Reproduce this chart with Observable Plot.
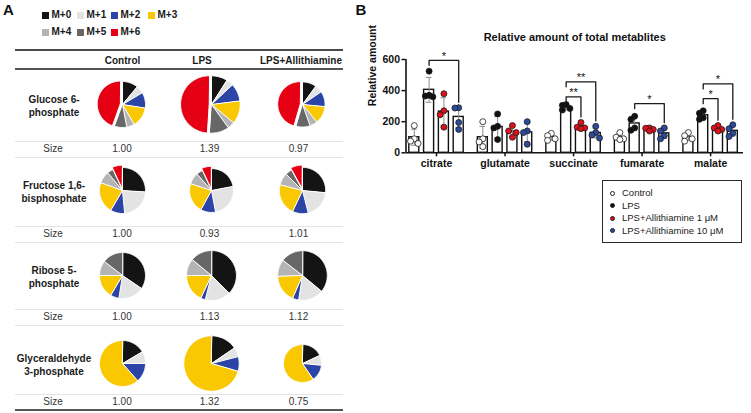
<!DOCTYPE html>
<html><head><meta charset="utf-8">
<script src="https://cdn.jsdelivr.net/npm/d3@7"></script>
<script src="https://cdn.jsdelivr.net/npm/@observablehq/plot@0.6"></script>
<style>
html,body{margin:0;padding:0;background:#fff;}
#root{position:relative;width:751px;height:413px;overflow:hidden;font-family:"Liberation Sans",Arial,Helvetica,sans-serif;color:#1a1a1a;}
.t{position:absolute;white-space:nowrap;line-height:1;transform:translate(-50%,-50%);}
.hl{position:absolute;left:15px;width:328px;}
.abs{position:absolute;}
</style></head><body><div id="root"></div>
<script>
// ---------------- Panel A data ----------------
const isotopologues = ["M+0","M+1","M+2","M+3","M+4","M+5","M+6"];
const isoColors = ["#141414","#e3e3e3","#2b44a6","#f9c800","#b4b4b4","#676767","#e50013"];
const conditionsA = ["Control","LPS","LPS+Allithiamine"];
const metabolitesA = ["Glucose 6-phosphate","Fructose 1,6-bisphosphate","Ribose 5-phosphate","Glyceraldehyde 3-phosphate"];
const labelLinesA = [["Glucose 6-","phosphate"],["Fructose 1,6-","bisphosphate"],["Ribose 5-","phosphate"],["Glyceraldehyde","3-phosphate"]];
const sizeG6P  = [1.00, 1.39, 0.97];
const sizeF16BP = [1.00, 0.93, 1.01];
const sizeR5P  = [1.00, 1.13, 1.12];
const sizeGA3P = [1.00, 1.32, 0.75];
// fractions M+0..M+6 for Control, LPS, LPS+Allithiamine
const fracG6P = [[0.11,0.055,0.11,0.14,0.055,0.085,0.445],[0.09,0.04,0.10,0.13,0.04,0.11,0.49],[0.10,0.055,0.11,0.125,0.055,0.10,0.455]];
const fracF16BP = [[0.26,0.225,0.10,0.22,0.085,0.04,0.07],[0.22,0.25,0.11,0.22,0.085,0.045,0.07],[0.265,0.195,0.11,0.22,0.085,0.045,0.08]];
const fracR5P = [[0.345,0.18,0.06,0.165,0.105,0.145,0],[0.375,0.165,0.03,0.18,0.11,0.14,0],[0.36,0.165,0.04,0.18,0.11,0.145,0]];
const fracGA3P = [[0.165,0.085,0.135,0.615,0,0,0],[0.155,0.055,0.085,0.705,0,0,0],[0.18,0.085,0.14,0.595,0,0,0]];

// ---------------- Panel B data ----------------
const metabolitesB = ["citrate","glutamate","succinate","fumarate","malate"];
const groupsB = ["Control","LPS","LPS+Allithiamine 1 μM","LPS+Allithiamine 10 μM"];
const groupFill = ["#ffffff","#111111","#e0101b","#2c4a9e"];
const citrate   = [[175,90,75,60],[525,370,365,360],[380,270,245,165],[290,288,195,150]];
const glutamate = [[200,90,70,40],[250,170,160,85],[175,140,130,100],[200,140,130,55]];
const succinate = [[125,110,90,80],[310,305,285,275],[195,165,160,155],[170,130,115,95]];
const fumarate  = [[130,100,90,85],[235,215,160,145],[160,158,150,140],[160,140,110,90]];
const malate    = [[130,110,90,75],[270,255,225,215],[175,160,150,140],[180,155,125,105]];
const sigMetabolite = [0, 2, 2, 3, 4, 4];
const sigGroup      = [3, 2, 3, 3, 2, 3];
const sigHeight     = [595, 360, 456, 316, 348, 443];
const sigLabel      = ["*", "**", "**", "*", "*", "*"];
const titleB = "Relative amount of total metablites";
const yLabelB = "Relative amount";

// ---------------- helpers ----------------
const root = document.getElementById("root");
const FONT = "Liberation Sans, Arial, Helvetica, sans-serif";
function text(str, x, y, style) {
  const d = document.createElement("div");
  d.className = "t"; d.textContent = str;
  d.style.left = x + "px"; d.style.top = y + "px";
  Object.assign(d.style, style || {});
  root.appendChild(d); return d;
}
function hline(y, h, color) {
  const d = document.createElement("div");
  d.className = "hl";
  d.style.top = (y - h / 2) + "px"; d.style.height = h + "px"; d.style.background = color;
  root.appendChild(d);
}

// ---------------- Panel A layout ----------------
text("A", 8.5, 9, {fontSize: "15px", fontWeight: "bold", color: "#111"});
text("B", 361, 9, {fontSize: "15px", fontWeight: "bold", color: "#111"});

const legColX = [42, 77, 111, 148];
isotopologues.forEach((m, i) => {
  const row = i < 4 ? 0 : 1, col = i < 4 ? i : i - 4;
  const y = row === 0 ? 15 : 32;
  const sq = document.createElement("div");
  sq.className = "abs";
  Object.assign(sq.style, {left: legColX[col] + "px", top: (y - 3.5) + "px", width: "7px", height: "7px", background: isoColors[i]});
  root.appendChild(sq);
  text(m, legColX[col] + 9.5, y, {fontSize: "10px", fontWeight: "bold", transform: "translate(0,-50%)"});
});

hline(50, 1.8, "#4a4a4a");
hline(69, 1.3, "#555");
const headX = [122.5, 202, 301];
conditionsA.forEach((c, i) => text(c, headX[i], 61, {fontSize: "10px", fontWeight: "bold"}));

const pieX = [121.5, 211, 302];
const pieY = [103.5, 189.5, 274.5, 362.5];
const sizeRowY = [149, 234, 317, 402];
const sizeX = [122, 209.5, 298.5];
const sizesA = [sizeG6P, sizeF16BP, sizeR5P, sizeGA3P];
const fracsA = [fracG6P, fracF16BP, fracR5P, fracGA3P];

sizeRowY.forEach((y, r) => {
  hline(y - 8, 1, "#e4e4e4");
  if (r < 3) hline(y + 8.5, 1, "#e4e4e4");
  text("Size", 53, y, {fontSize: "10px", color: "#333"});
  sizesA[r].forEach((s, c) => text(s.toFixed(2), sizeX[c], y, {fontSize: "10px", color: "#333"}));
});
hline(410, 2.4, "#555");

labelLinesA.forEach((lines, r) => {
  text(lines[0], 54, pieY[r] - 3.3, {fontSize: "10px", fontWeight: "bold"});
  text(lines[1], 54, pieY[r] + 9.3, {fontSize: "10px", fontWeight: "bold"});
});

const PX_PER_UNIT = 23, PIE_BOX = 80;
function piePoints(fr, size) {
  const total = d3.sum(fr);
  const radius = Math.pow(size, 2 / 3);
  const pts = [];
  let acc = 0;
  fr.forEach((f, k) => {
    if (f <= 0) { return; }
    const a0 = acc / total * 2 * Math.PI, a1 = (acc + f) / total * 2 * Math.PI;
    acc += f;
    const mid = (a0 + a1) / 2;
    const ex = isotopologues[k] === "M+6" ? 0.1 : 0;
    const ox = ex * Math.sin(mid), oy = ex * Math.cos(mid);
    pts.push({key: isotopologues[k], x: ox, y: oy});
    const n = Math.max(2, Math.ceil((a1 - a0) / (Math.PI / 90)));
    for (let j = 0; j <= n; j++) {
      const a = a0 + (a1 - a0) * j / n;
      pts.push({key: isotopologues[k], x: ox + radius * Math.sin(a), y: oy + radius * Math.cos(a)});
    }
  });
  return pts;
}
const half = PIE_BOX / 2 / PX_PER_UNIT;
fracsA.forEach((rowFr, r) => {
  rowFr.forEach((fr, c) => {
    const svg = Plot.plot({
      width: PIE_BOX, height: PIE_BOX, margin: 0,
      x: {domain: [-half, half], axis: null},
      y: {domain: [-half, half], axis: null},
      color: {domain: isotopologues, range: isoColors},
      style: {background: "none", overflow: "visible"},
      marks: [
        Plot.line(piePoints(fr, sizesA[r][c]), {x: "x", y: "y", z: "key", fill: "key", stroke: "white", strokeWidth: 1, curve: "linear-closed"})
      ]
    });
    svg.style.position = "absolute";
    svg.style.left = (pieX[c] - PIE_BOX / 2) + "px";
    svg.style.top = (pieY[r] - PIE_BOX / 2) + "px";
    root.appendChild(svg);
  });
});

// ---------------- Panel B ----------------
const valuesB = [citrate, glutamate, succinate, fumarate, malate];
const STEP = 0.216, BAR_HALF = 0.073, CAP_HALF = 0.042;
const X_PX = 68.5, Y_PX = 31 / 200;
function spread(values) {
  const order = d3.range(values.length).sort((a, b) => values[b] - values[a]);
  const placed = [], off = new Array(values.length);
  for (const k of order) {
    let best = 0, bestD = -1;
    for (const c of [0, -0.055, 0.055]) {
      const dmin = placed.length ? d3.min(placed, p => Math.hypot((c - p.o) * X_PX, (values[k] - p.v) * Y_PX)) : Infinity;
      if (dmin >= 5.5) { best = c; break; }
      if (dmin > bestD) { bestD = dmin; best = c; }
    }
    off[k] = best; placed.push({o: best, v: values[k]});
  }
  return off;
}
const bars = [], points = [];
valuesB.forEach((met, i) => {
  met.forEach((vals, g) => {
    const x = i + (g - 1.5) * STEP;
    bars.push({x, mean: d3.mean(vals), sd: d3.deviation(vals), group: groupsB[g]});
    const off = spread(vals);
    vals.forEach((v, k) => points.push({x: x + off[k], value: v, group: groupsB[g]}));
  });
});
const bracketPts = [], bracketLabels = [];
sigMetabolite.forEach((i, j) => {
  const g = sigGroup[j];
  const xL = i + (1 - 1.5) * STEP, xR = i + (g - 1.5) * STEP;
  const y = sigHeight[j];
  const rightEnd = d3.max(valuesB[i][g]) + 35;
  bracketPts.push({id: j, x: xL, y: y - 32}, {id: j, x: xL, y}, {id: j, x: xR, y}, {id: j, x: xR, y: rightEnd});
  bracketLabels.push({x: (xL + xR) / 2, y, label: sigLabel[j]});
});

const xDom = [-0.445, 4.48];
const plotB = Plot.plot({
  width: 396, height: 175,
  marginLeft: 50.5, marginRight: 8, marginTop: 59, marginBottom: 22.7,
  x: {domain: xDom},
  y: {domain: [0, 600]},
  color: {domain: groupsB, range: groupFill},
  style: {fontFamily: FONT, background: "none", overflow: "visible", color: "#111"},
  marks: [
    Plot.rectY(bars, {x1: d => d.x - BAR_HALF, x2: d => d.x + BAR_HALF, y1: 0, y2: "mean", fill: "white", stroke: "#111", strokeWidth: 1.4}),
    Plot.ruleX(bars, {x: "x", y1: d => d.mean - d.sd, y2: d => d.mean + d.sd, stroke: "#8c8c8c", strokeWidth: 1}),
    Plot.ruleY(bars, {y: d => d.mean + d.sd, x1: d => d.x - CAP_HALF, x2: d => d.x + CAP_HALF, stroke: "#8c8c8c", strokeWidth: 1}),
    Plot.ruleY(bars, {y: d => d.mean - d.sd, x1: d => d.x - CAP_HALF, x2: d => d.x + CAP_HALF, stroke: "#8c8c8c", strokeWidth: 1}),
    Plot.dot(points, {x: "x", y: "value", r: 3, fill: "group", stroke: "#1a1a1a", strokeWidth: 0.8}),
    Plot.line(bracketPts, {x: "x", y: "y", z: "id", stroke: "#1a1a1a", strokeWidth: 1.3}),
    Plot.text(bracketLabels, {x: "x", y: "y", text: "label", dy: -4, fontSize: 11, fill: "#111"}),
    Plot.ruleY([0], {stroke: "#111", strokeWidth: 1.6}),
    Plot.ruleX([xDom[0]], {y1: 0, y2: 600, stroke: "#111", strokeWidth: 1.6}),
    Plot.axisY({ticks: [0, 200, 400, 600], tickSize: 4, tickPadding: 2, label: null, fontSize: 10.5, fontWeight: "bold", strokeWidth: 1.5}),
    Plot.axisX({ticks: d3.range(metabolitesB.length), tickFormat: i => metabolitesB[i], tickSize: 4, tickPadding: 3, label: null, fontSize: 10.5, fontWeight: "bold", strokeWidth: 1.5}),
    Plot.text([titleB], {text: d => d, frameAnchor: "top", dy: -26, fontSize: 11, fontWeight: "bold", fill: "#111"}),
    Plot.text([yLabelB], {text: d => d, frameAnchor: "left", dx: -33.5, rotate: -90, fontSize: 10.5, fontWeight: "bold", fill: "#111"})
  ]
});
plotB.style.position = "absolute";
plotB.style.left = "355px";
plotB.style.top = "0px";
root.appendChild(plotB);

// legend for panel B
const lg = document.createElement("div");
lg.className = "abs";
Object.assign(lg.style, {left: "602px", top: "180px", width: "140px", height: "63px", boxSizing: "border-box", border: "1.3px solid #2a2a2a", background: "#fff"});
root.appendChild(lg);
groupsB.forEach((g, k) => {
  const y = 193 + k * 12.5;
  const c = document.createElement("div");
  c.className = "abs";
  Object.assign(c.style, {left: "609.5px", top: (y - 2.5) + "px", width: "5px", height: "5px", boxSizing: "border-box", borderRadius: "50%", border: "0.9px solid #222", background: groupFill[k]});
  root.appendChild(c);
  text(g, 622, y, {fontSize: "9.5px", color: "#222", transform: "translate(0,-50%)"});
});
</script></body></html>
